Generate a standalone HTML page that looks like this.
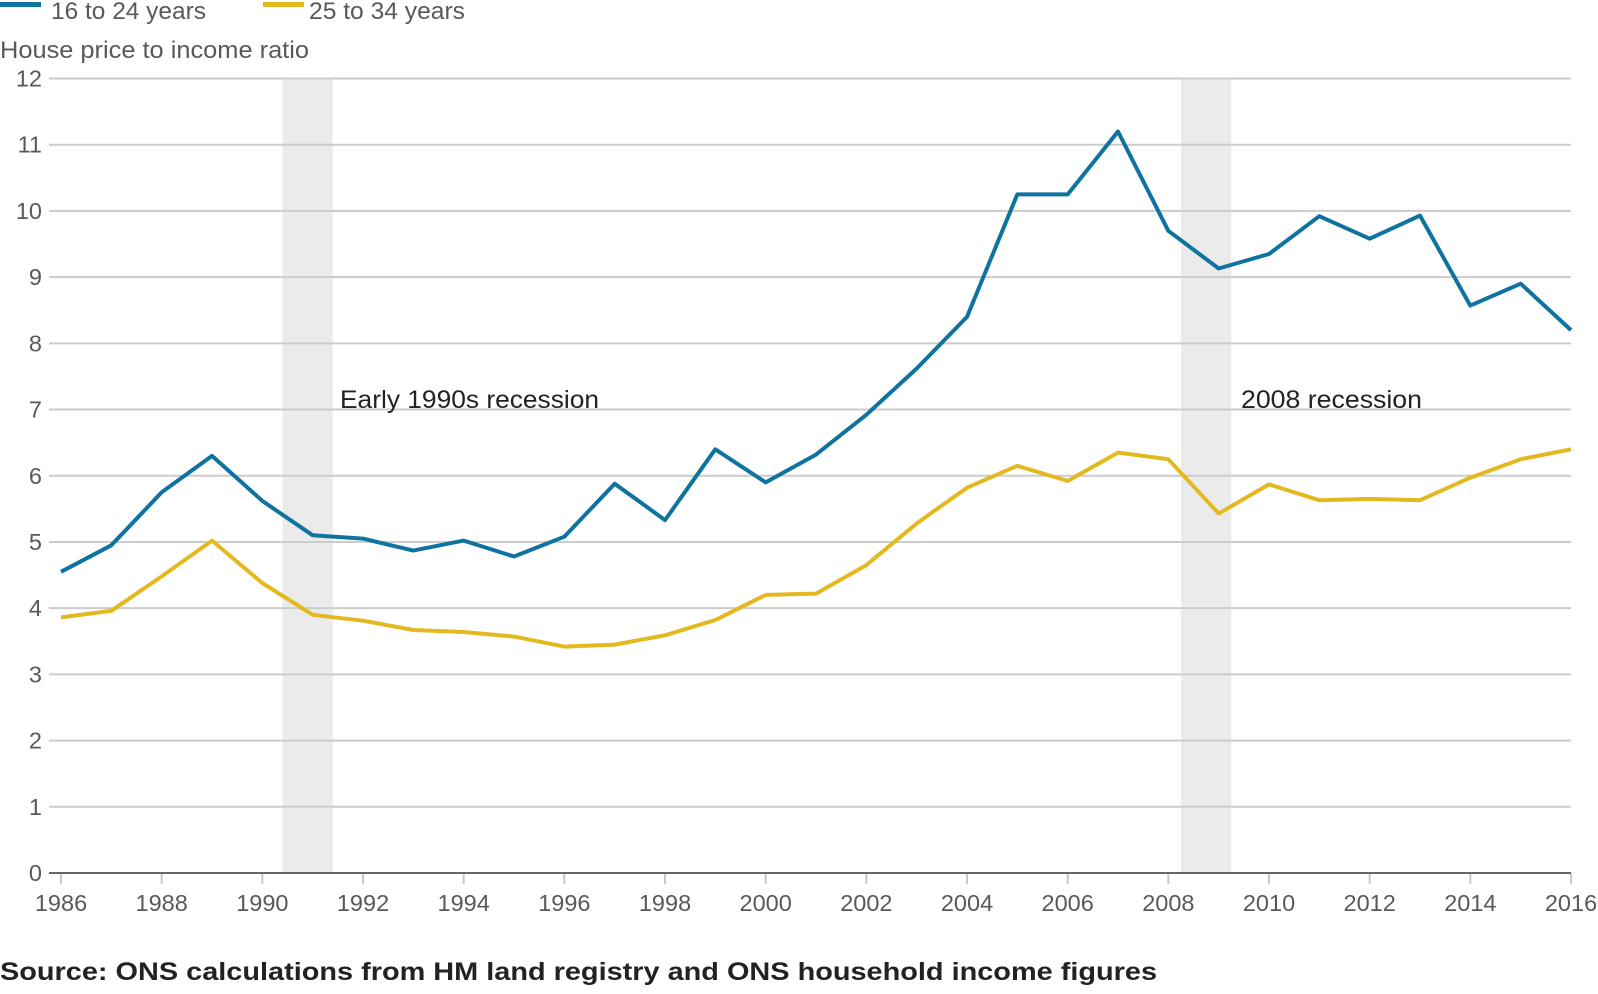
<!DOCTYPE html>
<html><head><meta charset="utf-8"><style>
html,body{margin:0;padding:0;background:#fff;}
svg text{font-family:"Liberation Sans",sans-serif;}
</style></head><body>
<svg id="chart" width="1598" height="989" viewBox="0 0 1598 989" xmlns="http://www.w3.org/2000/svg">
<g>
  <rect x="0" y="2" width="41" height="5" fill="#0f73a0"/>
  <text x="51" y="19" font-size="24" fill="#595959" textLength="155" lengthAdjust="spacingAndGlyphs">16 to 24 years</text>
  <rect x="263" y="2" width="41" height="5" fill="#e3b91f"/>
  <text x="309" y="19" font-size="24" fill="#595959" textLength="156" lengthAdjust="spacingAndGlyphs">25 to 34 years</text>
</g>
<text x="0" y="58" font-size="24" fill="#595959" textLength="309" lengthAdjust="spacingAndGlyphs">House price to income ratio</text>
<g id="bands"></g><g id="grid"></g><g id="axes"></g><g id="lines"></g>
<text x="340" y="408" font-size="25" fill="#222" textLength="259" lengthAdjust="spacingAndGlyphs">Early 1990s recession</text>
<text x="1241" y="408" font-size="25" fill="#222" textLength="181" lengthAdjust="spacingAndGlyphs">2008 recession</text>
<text x="0" y="980" font-size="25" font-weight="bold" fill="#222" textLength="1157" lengthAdjust="spacingAndGlyphs">Source: ONS calculations from HM land registry and ONS household income figures</text>
</svg>
<script>
const years = [1986,1987,1988,1989,1990,1991,1992,1993,1994,1995,1996,1997,1998,1999,2000,2001,2002,2003,2004,2005,2006,2007,2008,2009,2010,2011,2012,2013,2014,2015,2016];
const age16to24 = [4.55,4.95,5.75,6.3,5.62,5.1,5.05,4.87,5.02,4.78,5.08,5.88,5.33,6.4,5.9,6.32,6.92,7.62,8.4,10.25,10.25,11.2,9.7,9.13,9.35,9.92,9.58,9.93,8.57,8.9,8.2];
const age25to34 = [3.86,3.96,4.48,5.02,4.38,3.9,3.81,3.67,3.64,3.57,3.42,3.45,3.59,3.82,4.2,4.22,4.65,5.28,5.82,6.15,5.92,6.35,6.25,5.43,5.87,5.63,5.65,5.63,5.97,6.25,6.4];
const yTicks = [0,1,2,3,4,5,6,7,8,9,10,11,12];
const xTickLabels = [1986,1988,1990,1992,1994,1996,1998,2000,2002,2004,2006,2008,2010,2012,2014,2016];
const recessionStarts = [1990.4,2008.25];
const recessionEnds = [1991.4,2009.25];

const NS="http://www.w3.org/2000/svg";
const X = y => 61 + (y-1986)*(1571-61)/30;
const Y = v => 873 - v*(873-78.5)/12;
function mk(tag, parent, attrs){const e=document.createElementNS(NS,tag);for(const k in attrs)e.setAttribute(k,attrs[k]);document.getElementById(parent).appendChild(e);return e;}

recessionStarts.forEach((s,i)=>{
  const r=mk('rect','bands',{x:X(s),y:Y(12),width:X(recessionEnds[i])-X(s),height:Y(0)-Y(12),fill:'#ebebeb'});
  
  
});
yTicks.forEach(v=>{
  if(v>0){const l=mk('line','grid',{x1:49,x2:1571,y1:Y(v),y2:Y(v),stroke:'#cccccc','stroke-width':2});
  
  }
  const t=mk('text','grid',{x:42,y:Y(v)+8,'font-size':23.5,fill:'#595959','text-anchor':'end'});
  t.textContent=v;
  
  
});
const ax=mk('line','axes',{x1:49,x2:1571,y1:Y(0),y2:Y(0),stroke:'#666','stroke-width':2});


xTickLabels.forEach(y=>{
  const tk=mk('line','axes',{x1:X(y),x2:X(y),y1:Y(0)+1,y2:Y(0)+11,stroke:'#c8c8c8','stroke-width':2});
  
  
  const t=mk('text','axes',{x:X(y),y:911,'font-size':23.5,fill:'#595959','text-anchor':'middle'});
  t.textContent=y;
  
  
});
function line(vals,color,name){
  const d=vals.map((v,i)=>(i?'L':'M')+X(years[i]).toFixed(1)+','+Y(v).toFixed(1)).join('');
  const p=mk('path','lines',{d:d,fill:'none',stroke:color,'stroke-width':4,'stroke-linejoin':'round'});
  
  
}
line(age25to34,'#e3b91f','line-25-to-34');
line(age16to24,'#0f73a0','line-16-to-24');
</script>
</body></html>
